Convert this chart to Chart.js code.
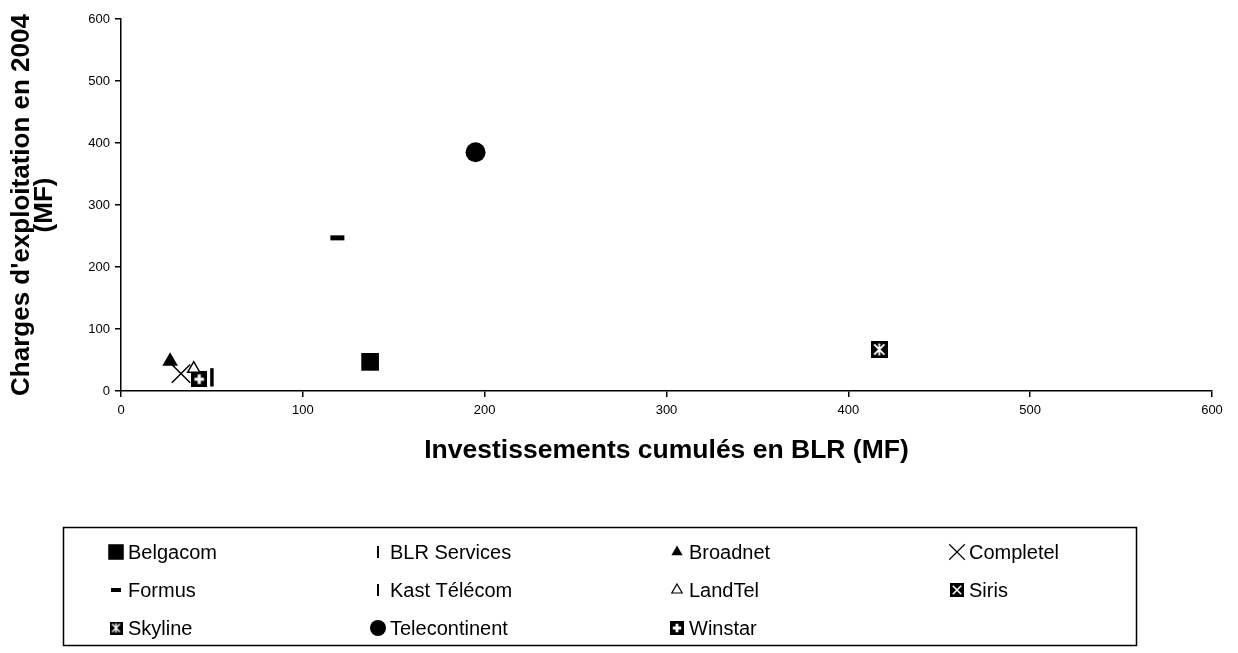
<!DOCTYPE html>
<html><head><meta charset="utf-8">
<script src="https://cdn.jsdelivr.net/npm/chart.js@4/dist/chart.umd.min.js"></script>
<style>html,body{margin:0;padding:0;background:#fff;}#wrap{width:1238px;height:653px;}</style>
</head><body><div id="wrap"><canvas id="c" width="1238" height="653"></canvas></div>
<script>
// ---- data ----
const companies = ['Belgacom','BLR Services','Broadnet','Completel','Formus','Kast Télécom','LandTel','Siris','Skyline','Telecontinent','Winstar'];
const investissements = [137, 50, 27, 33, 119, 50, 40, 417, 417, 195, 43];
const charges = [47, 22, 48, 28, 247, 22, 36, 67, 67, 385, 19];
const xTickValues = [0, 100, 200, 300, 400, 500, 600];
const yTickValues = [0, 100, 200, 300, 400, 500, 600];
const xTitle = 'Investissements cumulés en BLR (MF)';
const yTitle = ["Charges d'exploitation en 2004", '(MF)'];

const FONT = "'Liberation Sans', Arial, sans-serif";

function iconCanvas(size, kind) {
  const c = document.createElement('canvas'); c.width = c.height = size;
  const g = c.getContext('2d');
  g.fillStyle = '#000'; g.fillRect(0, 0, size, size);
  g.strokeStyle = '#fff'; g.lineWidth = kind === 'plus' ? Math.max(2, size / 5) : Math.max(1.3, size / 9);
  const m = size * 0.2, e = size - m;
  g.beginPath();
  if (kind === 'x' || kind === 'ast') { g.moveTo(m, m); g.lineTo(e, e); g.moveTo(e, m); g.lineTo(m, e); }
  if (kind === 'ast') { g.moveTo(size / 2, m * 0.7); g.lineTo(size / 2, size - m * 0.7); }
  if (kind === 'plus') { g.moveTo(size / 2, m); g.lineTo(size / 2, e); g.moveTo(m, size / 2); g.lineTo(e, size / 2); }
  g.stroke();
  return c;
}

// marker styles per company (plot / legend)
const styles = {
  'Belgacom':      {p:{pointStyle:'rect', radius:12.5, bg:'#000', bw:0}, l:{pointStyle:'rect', radius:11, bg:'#000', bw:0}},
  'BLR Services':  {p:{pointStyle:'line', rotation:90, radius:9, bw:3}, l:{pointStyle:'line', rotation:90, radius:6, bw:2}},
  'Broadnet':      {p:{pointStyle:'triangle', radius:9, bg:'#000', bw:0}, l:{pointStyle:'triangle', radius:6.5, bg:'#000', bw:0}},
  'Completel':     {p:{pointStyle:'crossRot', radius:13, bw:1.5}, l:{pointStyle:'crossRot', radius:11, bw:1.2}},
  'Formus':        {p:{pointStyle:'line', radius:7, bw:5}, l:{pointStyle:'line', radius:5, bw:4}},
  'Kast Télécom':  {p:{pointStyle:'line', rotation:90, radius:9, bw:3}, l:{pointStyle:'line', rotation:90, radius:6, bw:2}},
  'LandTel':       {p:{pointStyle:'triangle', radius:7, bg:'#fff', bw:1.5}, l:{pointStyle:'triangle', radius:6, bg:'#fff', bw:1.2}},
  'Siris':         {p:{pointStyle:iconCanvas(17,'x')}, l:{pointStyle:iconCanvas(14,'x')}},
  'Skyline':       {p:{pointStyle:iconCanvas(17,'ast')}, l:{pointStyle:iconCanvas(13,'ast')}},
  'Telecontinent': {p:{pointStyle:'circle', radius:10, bg:'#000', bw:0}, l:{pointStyle:'circle', radius:8, bg:'#000', bw:0}},
  'Winstar':       {p:{pointStyle:iconCanvas(16,'plus')}, l:{pointStyle:iconCanvas(14,'plus')}}
};

const datasets = companies.map((name, i) => {
  const s = styles[name].p;
  return {
    label: name,
    data: [{x: investissements[i], y: charges[i]}],
    pointStyle: s.pointStyle,
    pointRadius: s.radius || 8,
    pointRotation: s.rotation || 0,
    pointBackgroundColor: s.bg || '#000',
    pointBorderColor: '#000',
    pointBorderWidth: s.bw === undefined ? 0 : s.bw,
    showLine: false,
    order: name === 'Skyline' ? -1 : i,
    legendMarker: styles[name].l
  };
});

const legendPlugin = {
  id: 'gridLegend',
  afterDraw(chart) {
    const ctx = chart.ctx;
    ctx.save();
    ctx.strokeStyle = '#000'; ctx.lineWidth = 1.5;
    ctx.strokeRect(63.5, 527.5, 1073, 118);
    const cols = [116, 378, 677, 957], rows = [552, 590, 628];
    ctx.font = '20px ' + FONT; ctx.textBaseline = 'middle'; ctx.textAlign = 'left'; ctx.fillStyle = '#000';
    chart.data.datasets.forEach((ds, i) => {
      const cx = cols[i % 4], cy = rows[Math.floor(i / 4)];
      const m = ds.legendMarker;
      ctx.fillStyle = m.bg || '#000'; ctx.strokeStyle = '#000'; ctx.lineWidth = m.bw || 0;
      Chart.helpers.drawPoint(ctx, {pointStyle: m.pointStyle, radius: m.radius || 7, rotation: m.rotation || 0, borderWidth: m.bw || 0}, cx, cy);
      ctx.fillStyle = '#000';
      ctx.fillText(ds.label, cx + 12, cy + 1);
    });
    ctx.restore();
  }
};

new Chart(document.getElementById('c'), {
  type: 'scatter',
  data: {datasets},
  plugins: [legendPlugin],
  options: {
    responsive: false, animation: false, events: [], devicePixelRatio: 1,
    layout: {padding: {top: 19, right: 26, bottom: 182, left: 0}},
    plugins: {legend: {display: false}, tooltip: {enabled: false}},
    scales: {
      x: {
        type: 'linear', min: 0, max: 600,
        afterBuildTicks: s => { s.ticks = xTickValues.map(v => ({value: v})); },
        afterFit: s => { s.height = 80; },
        border: {color: '#000', width: 1.5},
        grid: {drawOnChartArea: false, drawTicks: true, tickLength: 6, color: '#000', lineWidth: 1.5},
        ticks: {color: '#000', font: {family: FONT, size: 13}, padding: 6, maxRotation: 0},
        title: {display: true, text: xTitle, color: '#000', font: {family: FONT, size: 26.5, weight: 'bold', lineHeight: 1}, padding: {top: 0, bottom: 7}}
      },
      y: {
        type: 'linear', min: 0, max: 600,
        afterBuildTicks: s => { s.ticks = yTickValues.map(v => ({value: v})); },
        afterFit: s => { s.width = 121; },
        border: {color: '#000', width: 1.5},
        grid: {drawOnChartArea: false, drawTicks: true, tickLength: 6, color: '#000', lineWidth: 1.5},
        ticks: {color: '#000', font: {family: FONT, size: 13}, padding: 5},
        title: {display: true, text: yTitle, color: '#000', font: {family: FONT, size: 26, weight: 'bold', lineHeight: 0.885}, padding: {top: 10.5, bottom: 0}}
      }
    }
  }
});
</script>
</body></html>
